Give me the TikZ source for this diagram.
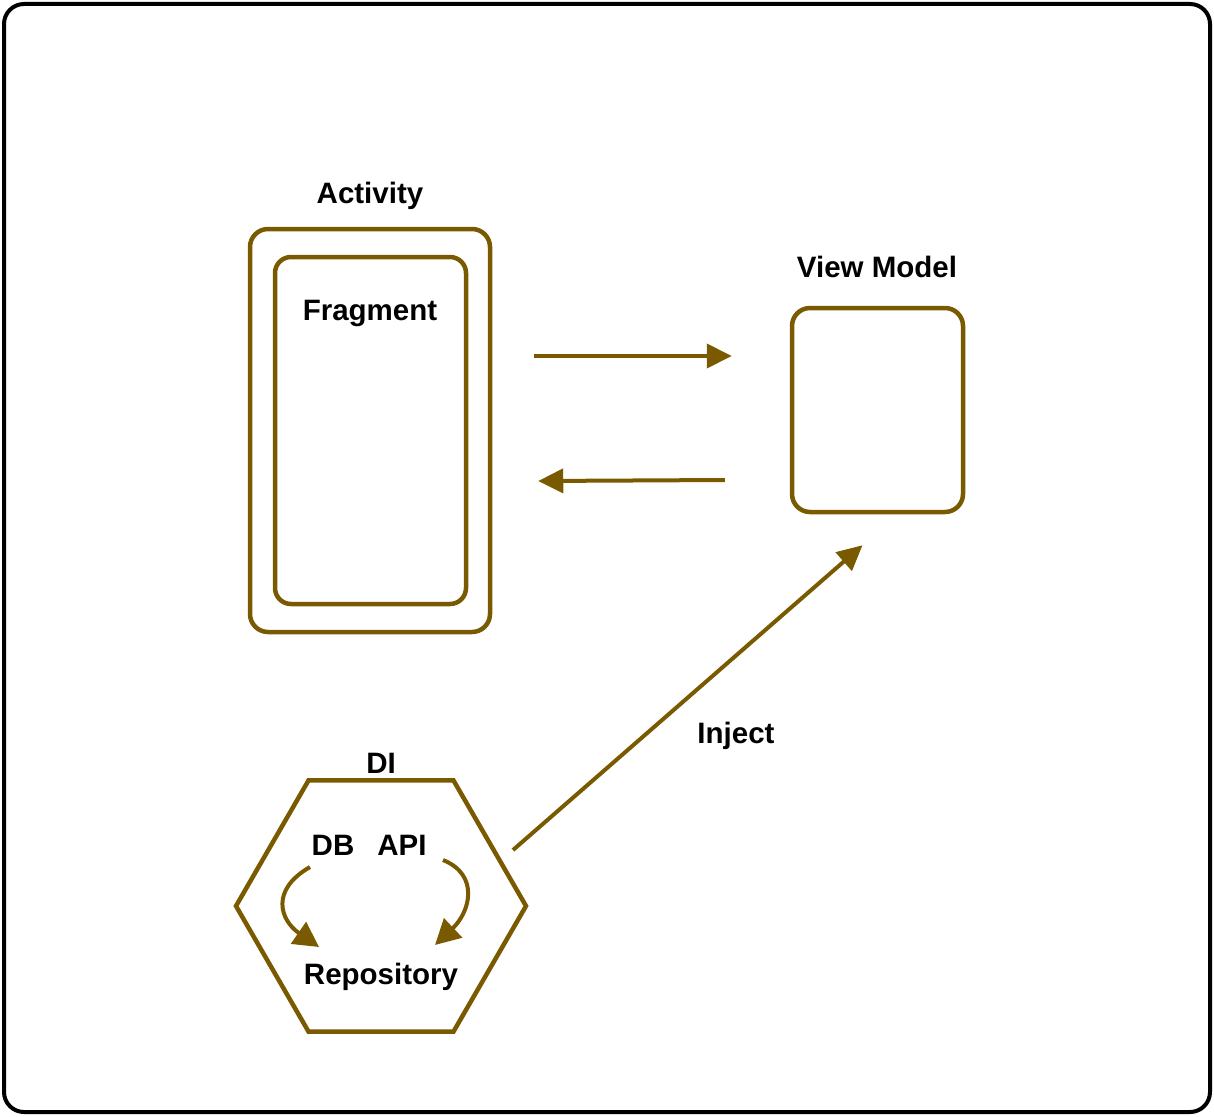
\documentclass[tikz,border=0pt]{standalone}
\usepackage{fontspec}
\setmainfont{Liberation Sans}
\usetikzlibrary{arrows.meta,shapes.geometric,calc}
\definecolor{olive}{RGB}{122,90,0}
\begin{document}
\begin{tikzpicture}[x=1pt,y=-1pt,
  box/.style={draw=olive,line width=4.5pt,rounded corners=18pt,inner sep=0pt},
  lbl/.style={font=\fontsize{29.5}{35}\bfseries\selectfont,anchor=base,inner sep=0pt},
  arr/.style={draw=olive,line width=4pt,-{Triangle[length=25pt,width=24pt]}},
  carr/.style={draw=olive,line width=4pt,-{Triangle[length=25pt,width=26pt]}}]
\useasboundingbox (0,0) rectangle (1214,1116);
\draw[line width=4pt,rounded corners=20pt] (4,4) rectangle (1210,1112);
% Activity / Fragment
\node[box,minimum width=240pt,minimum height=403pt] (act) at (370,430.5) {};
\node[box,minimum width=191pt,minimum height=347pt,rounded corners=16pt] (frag) at (370.5,430.5) {};
\node[lbl] (actl) at (370,203) {Activity};
\node[lbl] (fragl) at (370,320) {Fragment};
% View model
\node[box,minimum width=171pt,minimum height=204pt] (vm) at (877.5,410) {};
\node[lbl] (vml) at (877,277) {View Model};
% arrows between
\draw[arr] ($(act.east)+(42,-74.5)$) -- ($(vm.west)+(-58,-54)$);
\draw[arr] ($(vm.west)+(-65,70)$) -- ($(act.east)+(46,50.5)$);
% DI hexagon
\node[draw=olive,line width=4.5pt,regular polygon,regular polygon sides=6,minimum size=290pt,inner sep=0pt] (di) at (381,906) {};
\node[lbl] (dil) at (381,773) {DI};
\node[lbl] (db) at (333,855) {DB};
\node[lbl] (api) at (402,855) {API};
\node[lbl] (repo) at (381,984) {Repository};
\draw[carr] ($(db.base)+(-23,12)$) .. controls (270,890) and (280,920) .. ($(repo.base)+(-62,-37)$);
\draw[carr] ($(api.base)+(41,5)$) .. controls (480,875) and (470,912) .. ($(repo.base)+(54,-39)$);
% Inject
\draw[arr] ($(di.center)+(132,-56)$) -- ($(vm.south)+(-15,31)$);
\node[lbl] (inj) at (736,743) {Inject};
\end{tikzpicture}
\end{document}
